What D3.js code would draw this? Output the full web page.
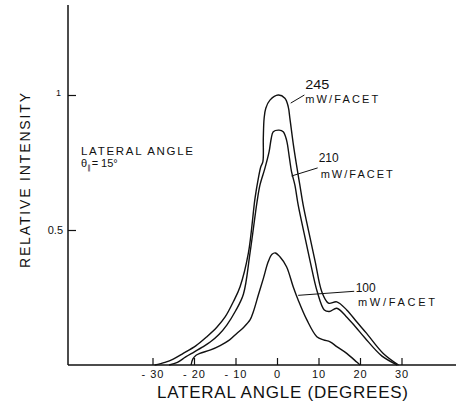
<!DOCTYPE html>
<html lang="en">
<head>
<meta charset="utf-8">
<script src="https://cdn.jsdelivr.net/npm/d3@7/dist/d3.min.js"></script>
<style>
body { margin: 0; background: #fff; }
svg { display: block; background: #fff; }
text { font-family: "Liberation Sans", "DejaVu Sans", sans-serif; fill: #111; }
.curve { fill: none; stroke: #111; stroke-width: 1.4; stroke-linejoin: round; }
.axis-line { stroke: #111; stroke-width: 1.5; }
.leader { stroke: #111; stroke-width: 1; }
</style>
</head>
<body>
<div id="chart"></div>
<script>
var width = 456,
    height = 406;

// lateral angle (degrees) / relative intensity
var angles245 = [-29.5, -27, -25, -22.6, -19.5, -16.9, -14.5, -12.5, -10.5, -8.9, -6.9, -5.3, -4.5, -3.9, -3.4, -3.3, -3.1, -2.7, -1.7, 0.3, 1.9, 2.7, 3.1, 3.9, 4.7, 5.5, 6.3, 7.7, 9.2, 10.8, 12.4, 14.4, 16.8, 19.2, 21.6, 25.6, 29.3];
var values245 = [0, 0.01, 0.022, 0.043, 0.072, 0.105, 0.14, 0.178, 0.235, 0.29, 0.414, 0.617, 0.691, 0.734, 0.753, 0.84, 0.914, 0.951, 0.981, 1.0, 0.988, 0.957, 0.914, 0.821, 0.741, 0.667, 0.593, 0.49, 0.383, 0.271, 0.229, 0.234, 0.204, 0.16, 0.117, 0.043, 0];

var angles210 = [-26, -24, -22, -20, -18, -16.1, -14, -12.1, -10, -8.1, -6.5, -4.8, -4.1, -2.9, -1.9, -1.4, -0.9, 0.5, 1.5, 2.3, 3.0, 3.5, 4.3, 5.1, 6.5, 8.0, 9.7, 11.4, 12.6, 14.4, 16.6, 19.0, 21.2, 25.3, 29.0];
var values210 = [0, 0.01, 0.03, 0.048, 0.066, 0.085, 0.113, 0.148, 0.2, 0.262, 0.415, 0.605, 0.667, 0.729, 0.79, 0.838, 0.864, 0.87, 0.864, 0.833, 0.766, 0.716, 0.667, 0.593, 0.49, 0.383, 0.271, 0.204, 0.198, 0.21, 0.181, 0.14, 0.1, 0.033, 0];

var angles100 = [-20.7, -20.3, -19.5, -18.6, -16, -13.7, -11.5, -9.7, -8, -6.5, -5.7, -4.5, -3.3, -2.1, -1.2, -0.4, 0.7, 2.3, 3.9, 5.1, 7.2, 9.6, 11.2, 12.8, 14.4, 16.8, 19.2, 20.0];
var values100 = [0, 0.022, 0.036, 0.043, 0.056, 0.072, 0.092, 0.117, 0.14, 0.167, 0.197, 0.259, 0.32, 0.383, 0.41, 0.415, 0.401, 0.364, 0.29, 0.241, 0.167, 0.105, 0.093, 0.086, 0.068, 0.043, 0.011, 0];

var xTicks = [-30, -20, -10, 0, 10, 20, 30];
var yTicks = [0.5, 1];
var yTickLabels = ["0.5", "1"];

// power labels: text lines, and leader line from curve point to label (angle, value)
var powerLabels = ["245", "210", "100"];
var leaderFrom = [[3.3, 0.97], [3.5, 0.70], [5.1, 0.258]];
var leaderTo = [[6.6, 1.0], [9.8, 0.73], [18.6, 0.273]];

var x = d3.scaleLinear().domain([-30, 30]).range([152.5, 401.5]);
var y = d3.scaleLinear().domain([0, 1]).range([365, 95]);

var svg = d3.select("#chart")
    .append("svg")
    .attr("width", width)
    .attr("height", height);

// axes
svg.append("line").attr("class", "axis-line")
    .attr("x1", 68).attr("x2", 68).attr("y1", 5).attr("y2", y(0));
svg.append("line").attr("class", "axis-line")
    .attr("x1", 68).attr("x2", width).attr("y1", y(0)).attr("y2", y(0));

var xAxis = svg.append("g")
    .attr("transform", "translate(0," + y(0) + ")")
    .call(d3.axisBottom(x)
        .tickValues(xTicks)
        .tickSizeInner(-7)
        .tickSizeOuter(0)
        .tickPadding(5)
        .tickFormat(function (d) { return d < 0 ? "- " + (-d) : d; }));
xAxis.select(".domain").remove();
xAxis.selectAll("line").attr("stroke", "#111").attr("stroke-width", 1.2);
xAxis.selectAll("text")
    .attr("font-family", "Liberation Sans, sans-serif")
    .attr("font-size", 11)
    .attr("letter-spacing", 1)
    .attr("fill", "#111");

var yAxis = svg.append("g")
    .attr("transform", "translate(68,0)")
    .call(d3.axisLeft(y)
        .tickValues(yTicks)
        .tickSizeInner(-8)
        .tickSizeOuter(0)
        .tickPadding(13)
        .tickFormat(function (d, i) { return yTickLabels[i]; }));
yAxis.select(".domain").remove();
yAxis.selectAll("line").attr("stroke", "#111").attr("stroke-width", 1.2);
yAxis.selectAll("text")
    .attr("font-family", "Liberation Sans, sans-serif")
    .attr("font-size", 11)
    .attr("fill", "#111");
yAxis.selectAll(".tick").filter(function (d) { return d === 1; })
    .select("text").attr("dy", "0.1em").attr("x", -7).attr("font-size", 9);
yAxis.selectAll(".tick").filter(function (d) { return d === 0.5; })
    .select("text").attr("x", -5);

// curves
var line = d3.line()
    .x(function (d) { return x(d[0]); })
    .y(function (d) { return y(d[1]); })
    .curve(d3.curveCatmullRom.alpha(0.5));

[[angles245, values245], [angles210, values210], [angles100, values100]].forEach(function (s) {
    svg.append("path")
        .datum(d3.zip(s[0], s[1]))
        .attr("class", "curve")
        .attr("d", line);
});

// leaders and power labels
var labelPos = [[305.3, 89.3, 305.3, 102.7, 24, 73], [318.7, 162.3, 320.7, 178.3, 20, 72], [355.7, 292.3, 358, 305.7, 20, 77]];
powerLabels.forEach(function (p, i) {
    svg.append("line").attr("class", "leader")
        .attr("x1", x(leaderFrom[i][0])).attr("y1", y(leaderFrom[i][1]))
        .attr("x2", x(leaderTo[i][0])).attr("y2", y(leaderTo[i][1]));
    var lp = labelPos[i];
    svg.append("text")
        .attr("x", lp[0]).attr("y", lp[1])
        .attr("font-size", 12)
        .attr("textLength", lp[4]).attr("lengthAdjust", "spacingAndGlyphs")
        .text(p);
    svg.append("text")
        .attr("x", lp[2]).attr("y", lp[3])
        .attr("font-size", 11)
        .attr("textLength", lp[5]).attr("lengthAdjust", "spacing")
        .text("mW/FACET");
});

// annotation
svg.append("text")
    .attr("x", 81).attr("y", 155)
    .attr("font-size", 11.5)
    .attr("textLength", 112).attr("lengthAdjust", "spacing")
    .text("LATERAL ANGLE");
var th = svg.append("text")
    .attr("x", 81).attr("y", 167)
    .attr("font-size", 11);
th.append("tspan").text("θ");
th.append("tspan").attr("font-size", 7).attr("dy", 3).text("∥");
th.append("tspan").attr("dy", -3).attr("dx", 1).text("= 15°");

// axis titles
svg.append("text")
    .attr("x", 157).attr("y", 398)
    .attr("font-size", 17)
    .attr("textLength", 251).attr("lengthAdjust", "spacing")
    .text("LATERAL ANGLE (DEGREES)");

svg.append("text")
    .attr("transform", "translate(30,268) rotate(-90)")
    .attr("font-size", 14)
    .attr("textLength", 175).attr("lengthAdjust", "spacing")
    .text("RELATIVE INTENSITY");
</script>
</body>
</html>
